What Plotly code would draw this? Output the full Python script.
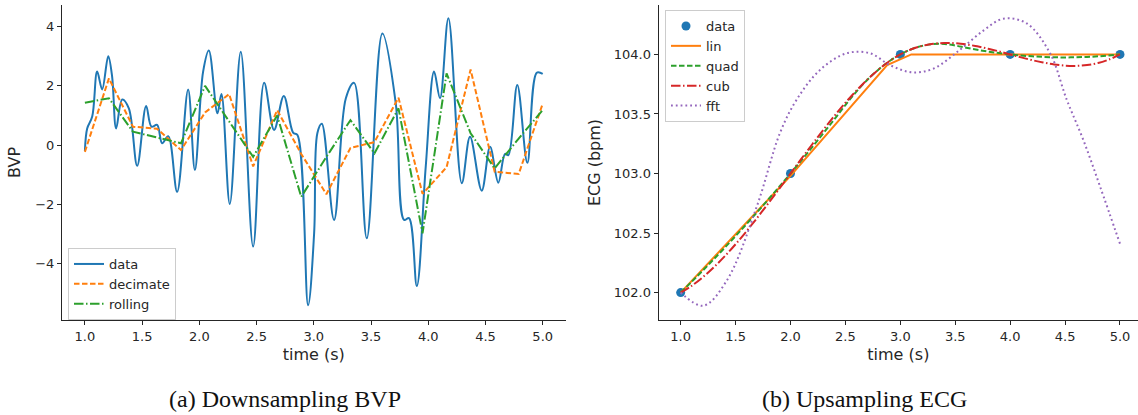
import plotly.graph_objects as go

# ---------------- Left panel: downsampling BVP ----------------
bvp_t = [1.000, 1.020, 1.064, 1.107, 1.151, 1.204, 1.238, 1.273, 1.326, 1.384,
         1.457, 1.535, 1.582, 1.631, 1.675, 1.728, 1.806, 1.902, 1.961, 2.033,
         2.083, 2.158, 2.193, 2.266, 2.362, 2.470, 2.566, 2.653, 2.738, 2.819,
         2.857, 2.950, 3.003, 3.031, 3.070, 3.177, 3.280, 3.352, 3.463, 3.599,
         3.716, 3.789, 3.832, 3.900, 3.978, 4.051, 4.103, 4.176, 4.293, 4.365,
         4.467, 4.540, 4.612, 4.671, 4.700, 4.778, 4.866, 4.948, 5.000]
bvp_v = [-0.20, 0.56, 0.96, 2.48, 1.88, 3.00, 2.31, 0.56, 1.54, 1.24,
         -0.70, 1.32, 0.62, 0.68, 0.06, 0.30, -1.58, 1.88, -0.84, 2.48,
         3.19, 1.07, 1.72, -1.99, 3.15, -3.43, 2.10, 0.51, 1.66, 0.42,
         0.34, -5.41, -2.97, 0.40, 0.72, -2.53, 1.58, 2.10, -3.15, 3.77,
         1.41, -2.53, -2.47, -4.76, -0.73, 2.48, 1.58, 4.28, -1.29, 0.28,
         -1.54, -0.06, -1.27, -0.30, -0.34, 2.03, -0.60, 2.44, 2.40]

down_t = [1.00, 1.21, 1.42, 1.63, 1.84, 2.05, 2.26, 2.47, 2.68, 2.89,
          3.11, 3.32, 3.53, 3.74, 3.95, 4.16, 4.37, 4.58, 4.79, 5.00]
decimate_v = [-0.23, 2.25, 0.62, 0.55, -0.17, 1.10, 1.72, -0.72, 1.18, -0.30,
              -1.66, -0.10, 0.10, 1.60, -1.65, -0.75, 2.55, -0.90, -0.98, 1.40]
rolling_v = [1.43, 1.58, 0.45, 0.26, 0.06, 2.00, 0.80, -0.40, 1.00, -1.75,
             -0.40, 0.84, -0.28, 1.24, -2.98, 2.42, 0.40, -0.79, 0.22, 1.18]

# ---------------- Right panel: upsampling ECG ----------------
ecg_t = [1, 2, 3, 4, 5]
ecg_v = [102.0, 103.0, 104.0, 104.0, 104.0]

lin_t = [1.00, 2.00, 2.88, 3.10, 5.00]
lin_v = [102.00, 102.98, 103.91, 104.00, 104.00]

up_t = [1.0, 1.1, 1.2, 1.3, 1.4, 1.5, 1.6, 1.7, 1.8, 1.9,
        2.0, 2.1, 2.2, 2.3, 2.4, 2.5, 2.6, 2.7, 2.8, 2.9,
        3.0, 3.1, 3.2, 3.3, 3.4, 3.5, 3.6, 3.7, 3.8, 3.9,
        4.0, 4.1, 4.2, 4.3, 4.4, 4.5, 4.6, 4.7, 4.8, 4.9, 5.0]
quad_v = [102.000, 102.091, 102.184, 102.279, 102.376, 102.475, 102.576, 102.679, 102.784, 102.891,
          103.000, 103.111, 103.224, 103.339, 103.456, 103.575, 103.688, 103.787, 103.872, 103.943,
          104.000, 104.043, 104.072, 104.087, 104.088, 104.075, 104.056, 104.039, 104.024, 104.011,
          104.000, 103.991, 103.984, 103.979, 103.976, 103.975, 103.976, 103.979, 103.984, 103.991, 104.000]
cub_v = [102.000, 102.057, 102.128, 102.211, 102.304, 102.406, 102.516, 102.632, 102.752, 102.875,
         103.000, 103.125, 103.248, 103.368, 103.484, 103.594, 103.696, 103.789, 103.872, 103.943,
         104.000, 104.043, 104.072, 104.089, 104.096, 104.094, 104.084, 104.068, 104.048, 104.025,
         104.000, 103.975, 103.952, 103.932, 103.916, 103.906, 103.904, 103.911, 103.928, 103.957, 104.000]

fft_t = [1.00, 1.206, 1.419, 1.692, 1.904, 2.056, 2.269, 2.512, 2.724, 2.906,
         3.104, 3.300, 3.544, 3.756, 3.938, 4.151, 4.363, 4.515, 4.667, 4.819, 5.00]
fft_v = [102.00, 101.89, 102.10, 102.72, 103.34, 103.62, 103.87, 104.01, 104.01, 103.91,
         103.85, 103.88, 104.04, 104.20, 104.30, 104.26, 104.01, 103.62, 103.28, 102.89, 102.41]

x_ticks = [1.0, 1.5, 2.0, 2.5, 3.0, 3.5, 4.0, 4.5, 5.0]
bvp_ticks = [-4, -2, 0, 2, 4]
ecg_ticks = [102.0, 102.5, 103.0, 103.5, 104.0]

BLUE, ORANGE, GREEN, RED, PURPLE = "#1f77b4", "#ff7f0e", "#2ca02c", "#d62728", "#9467bd"
FONT = "DejaVu Sans"
AX = "#262626"

fig = go.Figure()

# left traces
fig.add_trace(go.Scatter(x=bvp_t, y=bvp_v, mode="lines", name="data",
                         line=dict(color=BLUE, width=2, shape="spline", smoothing=1.0),
                         xaxis="x", yaxis="y", legend="legend"))
fig.add_trace(go.Scatter(x=down_t, y=decimate_v, mode="lines", name="decimate",
                         line=dict(color=ORANGE, width=2, dash="5.5px,2.5px"),
                         xaxis="x", yaxis="y", legend="legend"))
fig.add_trace(go.Scatter(x=down_t, y=rolling_v, mode="lines", name="rolling",
                         line=dict(color=GREEN, width=2, dash="9.5px,2.5px,1.5px,2.5px"),
                         xaxis="x", yaxis="y", legend="legend"))

# right traces
fig.add_trace(go.Scatter(x=ecg_t, y=ecg_v, mode="markers", name="data",
                         marker=dict(color=BLUE, size=9),
                         xaxis="x2", yaxis="y2", legend="legend2"))
fig.add_trace(go.Scatter(x=lin_t, y=lin_v, mode="lines", name="lin",
                         line=dict(color=ORANGE, width=2),
                         xaxis="x2", yaxis="y2", legend="legend2"))
fig.add_trace(go.Scatter(x=up_t, y=quad_v, mode="lines", name="quad",
                         line=dict(color=GREEN, width=2, dash="5.5px,2.5px", shape="spline"),
                         xaxis="x2", yaxis="y2", legend="legend2"))
fig.add_trace(go.Scatter(x=up_t, y=cub_v, mode="lines", name="cub",
                         line=dict(color=RED, width=2, dash="9.5px,2.5px,1.5px,2.5px", shape="spline"),
                         xaxis="x2", yaxis="y2", legend="legend2"))
fig.add_trace(go.Scatter(x=fft_t, y=fft_v, mode="lines", name="fft",
                         line=dict(color=PURPLE, width=2, dash="1.8px,3px", shape="spline"),
                         xaxis="x2", yaxis="y2", legend="legend2"))

axis_common = dict(showline=True, linecolor=AX, linewidth=1.2, ticks="outside",
                   ticklen=4, tickwidth=1.1, tickcolor=AX, showgrid=False, zeroline=False,
                   tickfont=dict(family=FONT, size=13, color=AX), automargin=False)

fig.update_layout(
    width=1138, height=415,
    margin=dict(l=0, r=0, t=5, b=95),
    paper_bgcolor="white", plot_bgcolor="white",
    font=dict(family=FONT, size=13, color=AX),
    xaxis=dict(domain=[62 / 1138, 565.6 / 1138], range=[0.8, 5.2],
               tickvals=x_ticks, tickformat=".1f",
               title=dict(text="time (s)", font=dict(family=FONT, size=16, color=AX), standoff=6),
               anchor="y", **axis_common),
    yaxis=dict(domain=[0, 1], range=[-5.91, 4.73], tickvals=bvp_ticks,
               title=dict(text="BVP", font=dict(family=FONT, size=16, color=AX), standoff=10),
               anchor="x", **axis_common),
    xaxis2=dict(domain=[658.7 / 1138, 1.0], range=[0.8, 5.164],
                tickvals=x_ticks, tickformat=".1f",
                title=dict(text="time (s)", font=dict(family=FONT, size=16, color=AX), standoff=6),
                anchor="y2", **axis_common),
    yaxis2=dict(domain=[0, 1], range=[101.77, 104.415], tickvals=ecg_ticks, tickformat=".1f",
                title=dict(text="ECG (bpm)", font=dict(family=FONT, size=16, color=AX), standoff=9),
                anchor="x2", **axis_common),
    legend=dict(x=68 / 1138, y=(320 - 248) / 315, xanchor="left", yanchor="top",
                bgcolor="rgba(255,255,255,0.85)", bordercolor="#cccccc", borderwidth=1,
                font=dict(family=FONT, size=13, color=AX), itemwidth=30,
                tracegroupgap=0),
    legend2=dict(x=665 / 1138, y=(320 - 10) / 315, xanchor="left", yanchor="top",
                 bgcolor="rgba(255,255,255,0.85)", bordercolor="#cccccc", borderwidth=1,
                 font=dict(family=FONT, size=13, color=AX), itemwidth=30,
                 tracegroupgap=0),
    showlegend=True,
)

fig.add_annotation(text="(a) Downsampling BVP", xref="paper", yref="paper",
                   x=285 / 1138, y=(320 - 399) / 315, xanchor="center", yanchor="middle",
                   showarrow=False, font=dict(family="Liberation Serif", size=24, color="#111111"))
fig.add_annotation(text="(b) Upsampling ECG", xref="paper", yref="paper",
                   x=864 / 1138, y=(320 - 399) / 315, xanchor="center", yanchor="middle",
                   showarrow=False, font=dict(family="Liberation Serif", size=24, color="#111111"))

fig.write_html("out.html")
